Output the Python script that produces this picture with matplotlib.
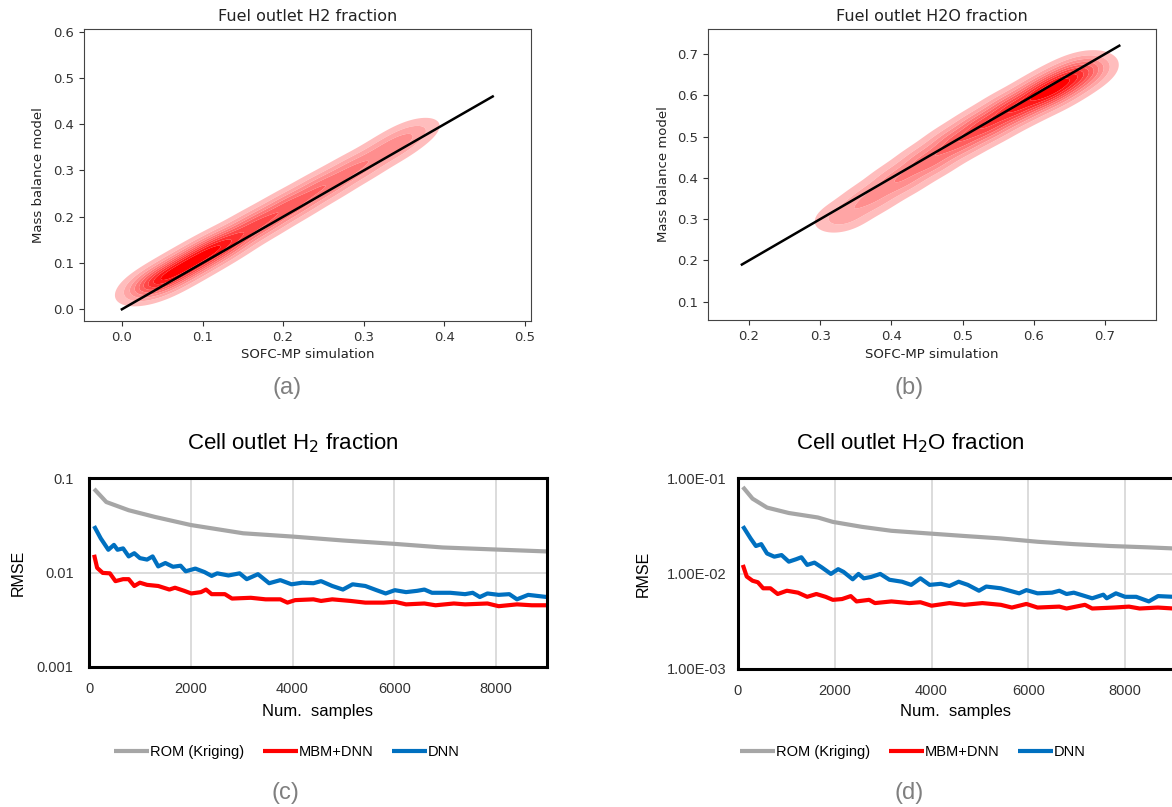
import numpy as np
import matplotlib
matplotlib.use('Agg')
import matplotlib.pyplot as plt
from matplotlib.colors import LinearSegmentedColormap

# --- (a) / (b): density ridges (anchor x, y, relative weight)
h2_ridge_x = [0.04, 0.07, 0.10, 0.13, 0.17, 0.21, 0.25, 0.29, 0.33, 0.36]
h2_ridge_y = [0.055, 0.085, 0.115, 0.145, 0.185, 0.225, 0.265, 0.305, 0.345, 0.38]
h2_ridge_w = [1.0, 1.0, 1.0, 0.95, 0.85, 0.75, 0.65, 0.55, 0.45, 0.35]
h2_line = [0.0, 0.46]

h2o_ridge_x = [0.33, 0.37, 0.41, 0.45, 0.49, 0.53, 0.57, 0.61, 0.64, 0.67]
h2o_ridge_y = [0.305, 0.35, 0.395, 0.44, 0.485, 0.525, 0.565, 0.6, 0.63, 0.66]
h2o_ridge_w = [0.35, 0.4, 0.5, 0.6, 0.7, 0.85, 0.95, 1.0, 0.9, 0.7]
h2o_line = [0.19, 0.72]

# --- (c) cell outlet H2 RMSE
c_rom_x = [100, 340, 780, 1290, 2000, 3030, 4000, 5000, 6000, 6950, 8000, 9000]
c_rom_y = [0.0767, 0.0557, 0.0456, 0.0388, 0.0318, 0.026, 0.024, 0.0218, 0.0201, 0.0184, 0.0175, 0.0167]
c_mbm_x = [100, 160, 270, 410, 520, 670, 780, 890, 1000, 1140, 1360, 1580, 1690, 1870, 2010, 2200, 2300, 2410,
           2670, 2810, 3180, 3470, 3760, 3900, 4050, 4410, 4560, 4780, 5140, 5430, 5790, 6010, 6230, 6590,
           6810, 7170, 7390, 7830, 8050, 8410, 8700, 9000]
c_mbm_y = [0.0154, 0.0112, 0.0099, 0.0098, 0.0081, 0.0085, 0.0085, 0.0072, 0.0078, 0.0074, 0.0072, 0.0066,
           0.0069, 0.0064, 0.0060, 0.0062, 0.0066, 0.0059, 0.0059, 0.0053, 0.0054, 0.0052, 0.0052, 0.0048,
           0.0051, 0.0052, 0.0050, 0.0052, 0.0050, 0.0048, 0.0048, 0.0049, 0.0046, 0.0047, 0.0045, 0.0047,
           0.0046, 0.0047, 0.0044, 0.0046, 0.0045, 0.0045]
c_dnn_x = [100, 230, 380, 490, 560, 670, 780, 890, 1000, 1140, 1250, 1360, 1500, 1650, 1800, 1900, 2090, 2270,
           2410, 2520, 2740, 2960, 3100, 3320, 3540, 3760, 3980, 4190, 4410, 4560, 4780, 4990, 5180, 5430,
           5650, 5830, 6010, 6230, 6450, 6590, 6740, 7100, 7390, 7540, 7680, 7830, 8050, 8260, 8410, 8630, 9000]
c_dnn_y = [0.031, 0.023, 0.0174, 0.0196, 0.0174, 0.018, 0.0148, 0.016, 0.0142, 0.0137, 0.0148, 0.0116, 0.0126,
           0.0115, 0.0118, 0.0103, 0.011, 0.0101, 0.0092, 0.0098, 0.0093, 0.0098, 0.0085, 0.0096, 0.0077,
           0.0083, 0.0075, 0.0078, 0.0077, 0.0081, 0.0072, 0.0066, 0.0075, 0.0072, 0.0065, 0.006, 0.0065,
           0.0062, 0.0064, 0.0066, 0.0061, 0.0061, 0.0059, 0.0061, 0.0055, 0.006, 0.0058, 0.0059, 0.0052,
           0.0058, 0.0055]

# --- (d) cell outlet H2O RMSE
d_rom_x = [100, 300, 600, 1050, 1650, 1960, 2560, 3170, 3920, 4680, 5430, 6190, 6940, 7700, 8450, 9000]
d_rom_y = [0.0805, 0.0608, 0.049, 0.043, 0.0386, 0.0347, 0.0308, 0.028, 0.0263, 0.0247, 0.0233, 0.0215,
           0.0203, 0.0194, 0.0188, 0.0183]
d_mbm_x = [100, 180, 300, 410, 520, 670, 820, 1010, 1240, 1430, 1620, 1810, 1960, 2150, 2330, 2450, 2710, 2830,
           3170, 3540, 3770, 4000, 4370, 4680, 5050, 5430, 5660, 5960, 6190, 6640, 6790, 7170, 7320, 7770,
           8080, 8300, 8680, 9000]
d_mbm_y = [0.0123, 0.0093, 0.0084, 0.0081, 0.007, 0.007, 0.0061, 0.0066, 0.0063, 0.0057, 0.0061, 0.0057,
           0.0053, 0.0054, 0.0058, 0.0051, 0.0053, 0.0049, 0.0051, 0.0049, 0.005, 0.0046, 0.0049, 0.0047,
           0.0049, 0.0047, 0.0044, 0.0048, 0.0044, 0.0045, 0.0043, 0.0047, 0.0043, 0.0044, 0.0045, 0.0043,
           0.0044, 0.0043]
d_dnn_x = [100, 260, 370, 480, 600, 750, 900, 1050, 1200, 1310, 1430, 1580, 1730, 1920, 2070, 2180, 2370, 2490,
           2600, 2750, 2940, 3130, 3390, 3580, 3770, 3960, 4190, 4370, 4560, 4750, 4980, 5130, 5430, 5810,
           5960, 6190, 6490, 6640, 6790, 6940, 7320, 7550, 7620, 7810, 8000, 8230, 8490, 8680, 9000]
d_dnn_y = [0.0313, 0.0233, 0.0194, 0.0203, 0.0162, 0.015, 0.0156, 0.0133, 0.0141, 0.0148, 0.0123, 0.013,
           0.0116, 0.0099, 0.0111, 0.0104, 0.0087, 0.0099, 0.0089, 0.0092, 0.0099, 0.0086, 0.0082, 0.0076,
           0.0089, 0.0076, 0.0078, 0.0074, 0.0082, 0.0076, 0.0066, 0.0073, 0.007, 0.0062, 0.0067, 0.0062,
           0.0063, 0.0066, 0.0061, 0.0063, 0.0055, 0.006, 0.0055, 0.0062, 0.0057, 0.0057, 0.0051, 0.0058, 0.0057]

series_names = ['ROM (Kriging)', 'MBM+DNN', 'DNN']
series_colors = ['#A6A6A6', '#FF0000', '#0070C0']

W, H = 1172, 807
fig = plt.figure(figsize=(W / 100, H / 100), dpi=100)


def box(left, top, right, bottom):
    return [left / W, 1 - bottom / H, (right - left) / W, (bottom - top) / H]


reds = LinearSegmentedColormap.from_list('reds', ['#ffffff', '#ff0000'])


def ridge_density(X, Y, rx, ry, rw, s_along, s_across):
    Z = np.zeros_like(X)
    for x0, y0, w in zip(rx, ry, rw):
        dx, dy = X - x0, Y - y0
        a = (dx + dy) / np.sqrt(2)
        c = (dy - dx) / np.sqrt(2)
        Z += w * np.exp(-0.5 * (a ** 2 / s_along ** 2 + c ** 2 / s_across ** 2))
    return Z


def kde_panel(ax, rx, ry, rw, line, xlim, ylim, s_along, s_across, title):
    gx = np.linspace(xlim[0], xlim[1], 400)
    gy = np.linspace(ylim[0], ylim[1], 400)
    X, Y = np.meshgrid(gx, gy)
    Z = ridge_density(X, Y, rx, ry, rw, s_along, s_across)
    levels = Z.max() * np.linspace(0.08, 1.0, 10)
    levels[-1] = Z.max() * 1.001
    colors = [reds(v) for v in np.linspace(0.26, 1.0, 9)]
    ax.contourf(X, Y, Z, levels=levels, colors=colors, antialiased=True)
    ax.plot(line, line, color='black', lw=1.8)
    ax.set_xlim(xlim)
    ax.set_ylim(ylim)
    ax.set_title(title, fontsize=11.5, color='#222222', pad=6)
    ax.set_xlabel('SOFC-MP simulation', fontsize=9.5, color='#222222')
    ax.set_ylabel('Mass balance model', fontsize=9.5, color='#222222')
    ax.tick_params(labelsize=9.5, colors='#333333')
    for s in ax.spines.values():
        s.set_color('#444444')


ax_a = fig.add_axes(box(84, 29, 531, 321))
kde_panel(ax_a, h2_ridge_x, h2_ridge_y, h2_ridge_w, h2_line, (-0.047, 0.5075), (-0.0253, 0.6058),
          0.03, 0.017, 'Fuel outlet H2 fraction')
ax_a.set_xticks([0.0, 0.1, 0.2, 0.3, 0.4, 0.5])
ax_a.set_yticks([0.0, 0.1, 0.2, 0.3, 0.4, 0.5, 0.6])
ax_a.xaxis.set_label_coords(0.5, -0.116)
ax_a.yaxis.set_label_coords(-0.101, 0.5)
ax_a.xaxis.label.set_va('center')
ax_a.yaxis.label.set_va('center')

ax_b = fig.add_axes(box(708, 29, 1156, 320))
kde_panel(ax_b, h2o_ridge_x, h2o_ridge_y, h2o_ridge_w, h2o_line, (0.1424, 0.7716), (0.0557, 0.7605),
          0.03, 0.022, 'Fuel outlet H2O fraction')
ax_b.set_xticks([0.2, 0.3, 0.4, 0.5, 0.6, 0.7])
ax_b.set_yticks([0.1, 0.2, 0.3, 0.4, 0.5, 0.6, 0.7])
ax_b.xaxis.set_label_coords(0.5, -0.117)
ax_b.yaxis.set_label_coords(-0.100, 0.5)
ax_b.xaxis.label.set_va('center')
ax_b.yaxis.label.set_va('center')

FONT = 'Liberation Sans'


def rmse_panel(ax, data, ytick_labels, ypad):
    for (x, y), name, col in zip(data, series_names, series_colors):
        ax.plot(x, y, color=col, lw=3.0, label=name, solid_capstyle='butt')
    ax.set_yscale('log')
    ax.set_xlim(0, 9000)
    ax.set_ylim(0.001, 0.1)
    ax.set_xticks([0, 2000, 4000, 6000, 8000])
    ax.set_xticklabels(['0', '2000', '4000', '6000', '8000'], fontfamily=FONT, fontsize=10.5, color='#333333')
    ax.set_yticks([0.001, 0.01, 0.1])
    ax.set_yticklabels(ytick_labels, fontfamily=FONT, fontsize=10.5, color='#333333')
    ax.minorticks_off()
    ax.tick_params(axis='x', length=0, pad=11)
    ax.tick_params(axis='y', length=0, pad=ypad)
    ax.grid(True, color='#D9D9D9', lw=1.3)
    ax.set_axisbelow(True)
    for s in ax.spines.values():
        s.set_color('black')
        s.set_linewidth(2.2)
    ax.set_xlabel('Num.  samples', fontfamily=FONT, fontsize=12, color='black')
    ax.set_ylabel('RMSE', fontfamily=FONT, fontsize=11.5, color='black')
    ax.xaxis.label.set_va('center')
    ax.yaxis.label.set_va('center')


ax_c = fig.add_axes(box(89, 478, 547, 667))
rmse_panel(ax_c, [(c_rom_x, c_rom_y), (c_mbm_x, c_mbm_y), (c_dnn_x, c_dnn_y)],
           ['0.001', '0.01', '0.1'], 11)
ax_c.xaxis.set_label_coords(0.5, -0.233)
ax_c.yaxis.set_label_coords(-0.154, 0.5)

ax_d = fig.add_axes(box(738, 478, 1173.5, 669))
rmse_panel(ax_d, [(d_rom_x, d_rom_y), (d_mbm_x, d_mbm_y), (d_dnn_x, d_dnn_y)],
           ['1.00E-03', '1.00E-02', '1.00E-01'], 8)
ax_d.xaxis.set_label_coords(0.5, -0.225)
ax_d.yaxis.set_label_coords(-0.218, 0.5)

# titles and legends of the lower panels, centred on the whole chart area
for ax, title, tx, lx in [(ax_c, 'Cell outlet H$_2$ fraction', 293, 287),
                          (ax_d, 'Cell outlet H$_2$O fraction', 910, 913)]:
    fig.text(tx / W, 1 - 443 / H, title, ha='center', va='center', fontfamily=FONT, fontsize=16,
             color='black')
    ax.legend(loc='center', bbox_to_anchor=(lx / W, 1 - 752 / H), bbox_transform=fig.transFigure,
              ncol=3, frameon=False, handlelength=2.4, handletextpad=0.05, columnspacing=1.3,
              prop={'family': FONT, 'size': 10.5})

# panel letters
for txt, x, y in [('(a)', 287, 388), ('(b)', 909, 388), ('(c)', 285, 793), ('(d)', 909, 793)]:
    fig.text(x / W, 1 - y / H, txt, ha='center', va='center', fontfamily=FONT, fontsize=17,
             color='#7f7f7f')

fig.savefig('out.png', dpi=100)
